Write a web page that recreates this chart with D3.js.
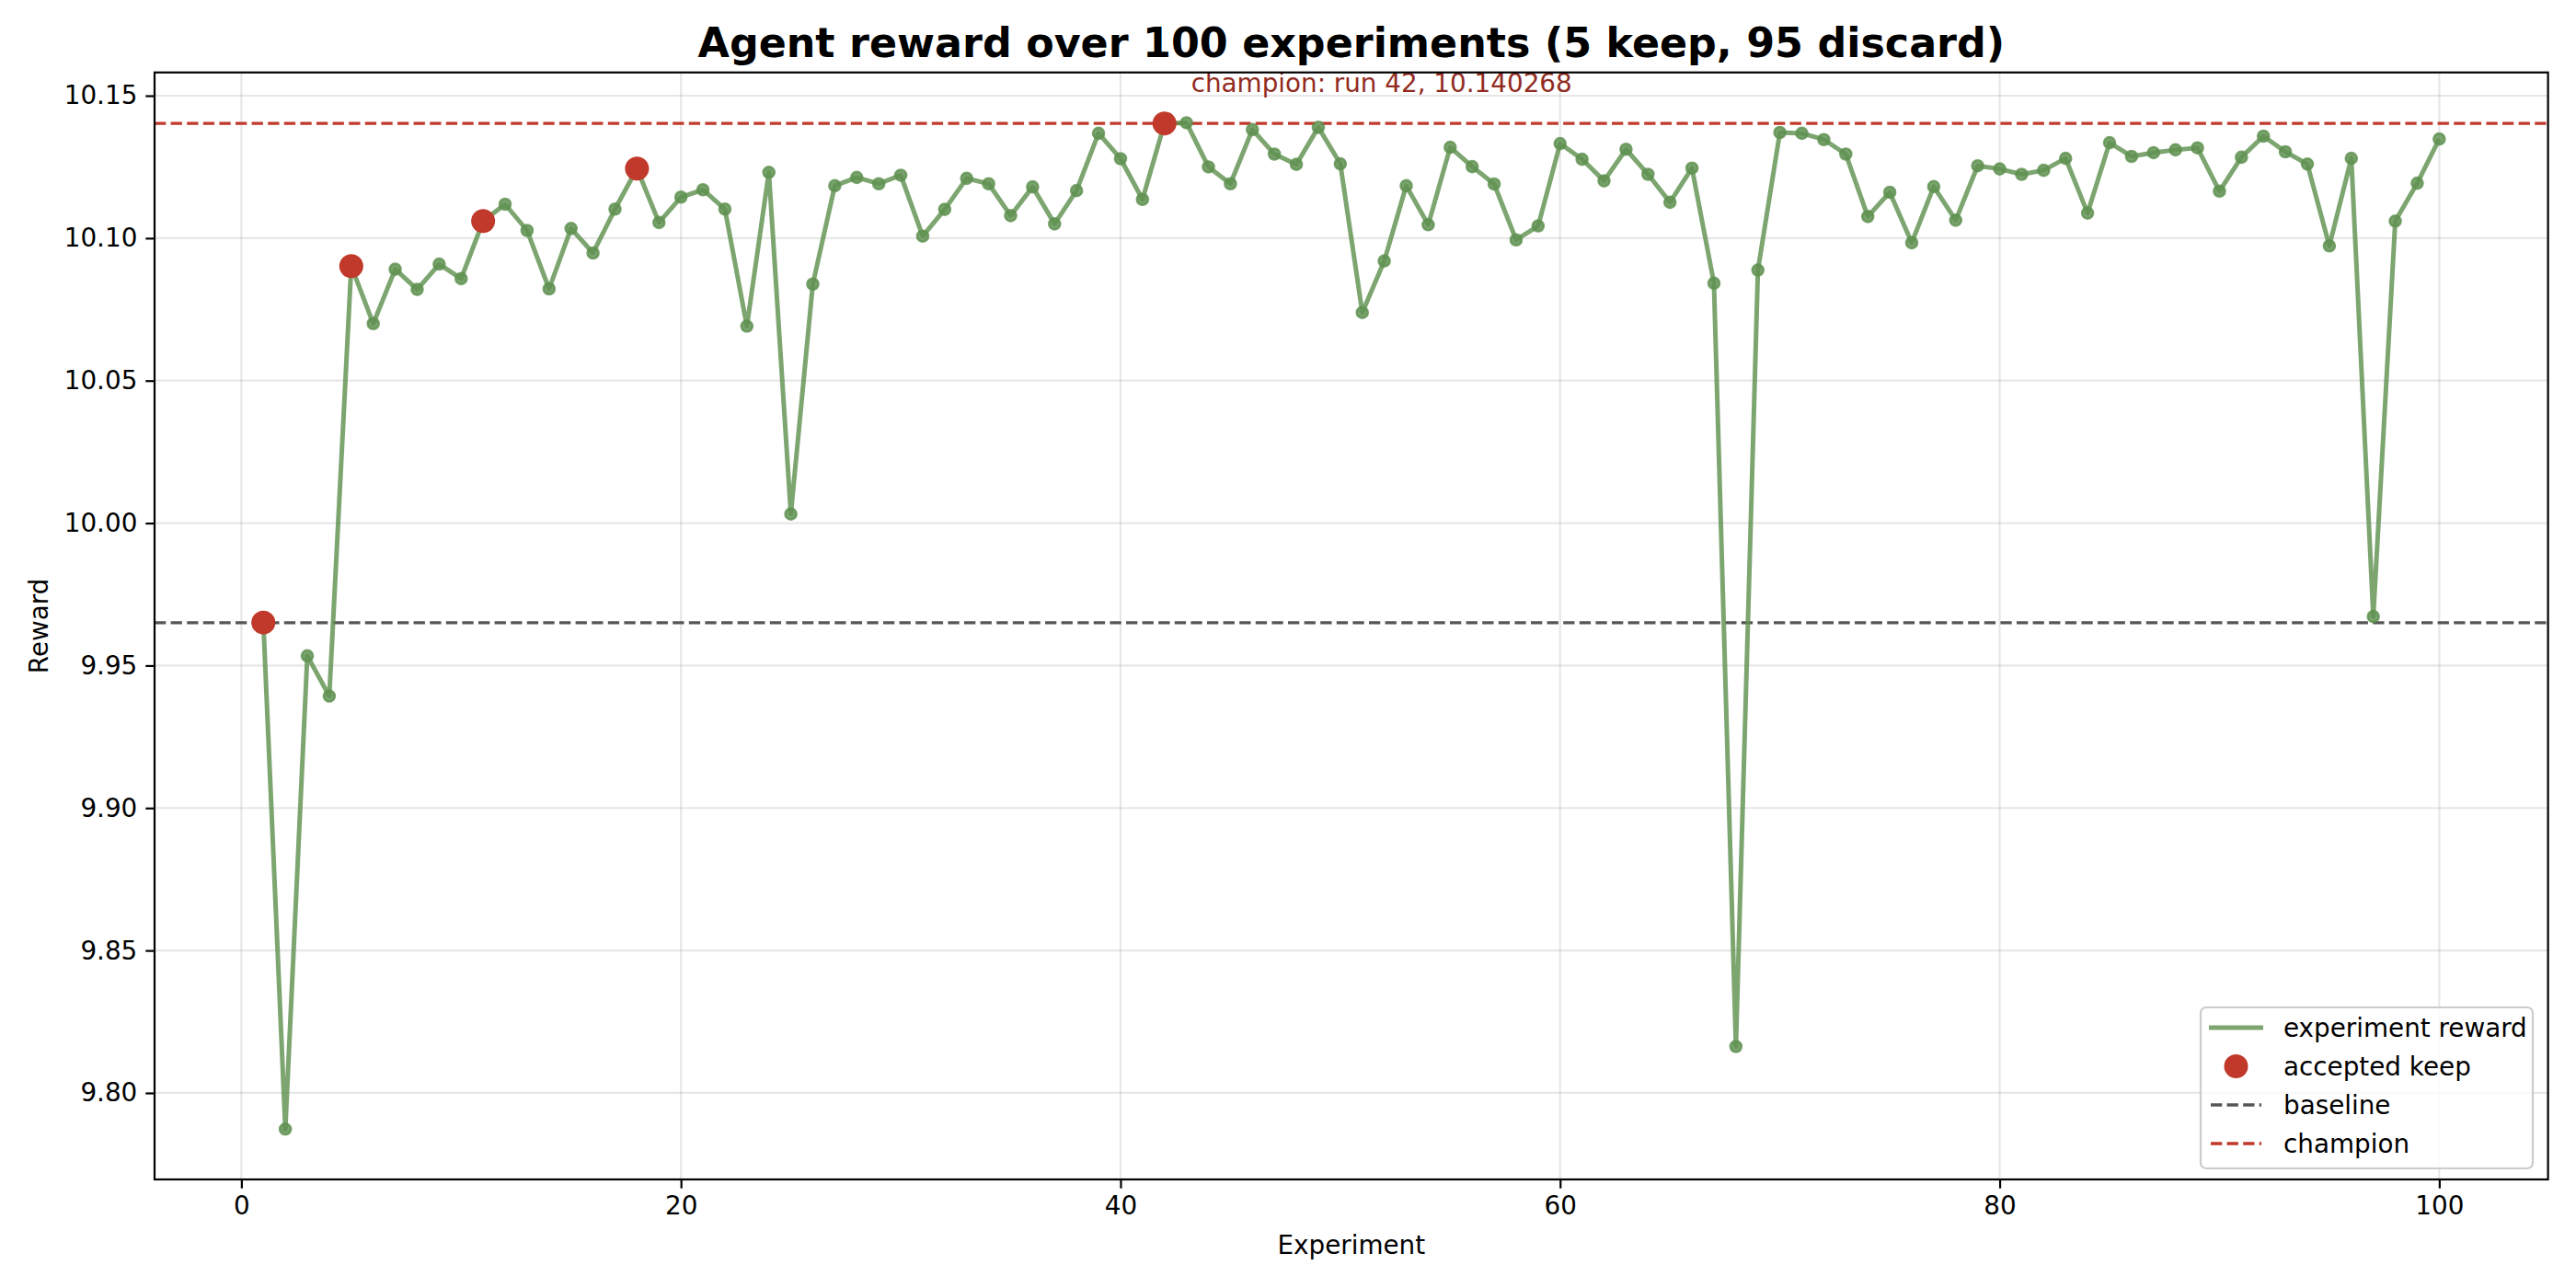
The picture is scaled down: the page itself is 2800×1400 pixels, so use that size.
<!DOCTYPE html>
<html>
<head>
<meta charset="utf-8">
<script src="https://cdn.jsdelivr.net/npm/d3@7"></script>
<style>
  html, body { margin: 0; padding: 0; background: #fff; }
  svg { display: block; font-family: "DejaVu Sans", sans-serif; }
</style>
</head>
<body>
<svg id="chart"></svg>
<script>
// reward per experiment, runs 1..100
const rewards = [
  9.9651, 9.7873, 9.9534, 9.9393, 10.0902, 10.0700, 10.0891, 10.0820, 10.0909, 10.0858,
  10.1060, 10.1119, 10.1027, 10.0822, 10.1034, 10.0948, 10.1102, 10.1244, 10.1055, 10.1144,
  10.1170, 10.1102, 10.0691, 10.1231, 10.0032, 10.0839, 10.1184, 10.1213, 10.1191, 10.1221,
  10.1007, 10.1101, 10.1210, 10.1191, 10.1079, 10.1180, 10.1050, 10.1167, 10.1368, 10.1279,
  10.1136, 10.140268, 10.1405, 10.1250, 10.1191, 10.1381, 10.1295, 10.1259, 10.1389, 10.1261,
  10.0739, 10.0920, 10.1184, 10.1047, 10.1319, 10.1251, 10.1190, 10.0994, 10.1043, 10.1332,
  10.1277, 10.1201, 10.1312, 10.1224, 10.1126, 10.1246, 10.0842, 9.8163, 10.0888, 10.1371,
  10.1368, 10.1346, 10.1295, 10.1076, 10.1161, 10.0984, 10.1181, 10.1063, 10.1254, 10.1243,
  10.1224, 10.1238, 10.1280, 10.1088, 10.1335, 10.1287, 10.1300, 10.1310, 10.1317, 10.1165,
  10.1284, 10.1358, 10.1303, 10.1260, 10.0973, 10.1280, 9.9672, 10.1060, 10.1193, 10.1348
];
const keepRuns = [1, 5, 11, 18, 42];
const baseline = 9.965;
const championRun = 42;
const champion = 10.140268;
const xTicks = [0, 20, 40, 60, 80, 100];
const yTicks = [9.80, 9.85, 9.90, 9.95, 10.00, 10.05, 10.10, 10.15];
const legendLabels = ["experiment reward", "accepted keep", "baseline", "champion"];

const W = 2800, H = 1400;
const margin = { left: 168, right: 2800 - 2769.6, top: 78.75, bottom: 1400 - 1282 };
const GREEN = "#5f9150", RED = "#c0392b", GRAY = "#555555", LABEL_RED = "#922b21";

const points = rewards.map((r, i) => ({ run: i + 1, reward: r }));
const keeps = points.filter(d => keepRuns.includes(d.run));

const svg = d3.select("#chart").attr("width", W).attr("height", H);

// matplotlib-like 5% margins
const xExt = d3.extent(points, d => d.run);
const yExt = d3.extent(points, d => d.reward);
const xPad = (xExt[1] - xExt[0]) * 0.05;
const yPad = (yExt[1] - yExt[0]) * 0.05;

const x = d3.scaleLinear()
  .domain([xExt[0] - xPad, xExt[1] + xPad])
  .range([margin.left, W - margin.right]);
const y = d3.scaleLinear()
  .domain([yExt[0] - yPad, yExt[1] + yPad])
  .range([H - margin.bottom, margin.top]);

const plotW = W - margin.left - margin.right;
const plotH = H - margin.top - margin.bottom;

// grid
const grid = svg.append("g").attr("stroke", "#b0b0b0").attr("stroke-opacity", 0.3).attr("stroke-width", 2.2);
grid.selectAll(".gx").data(xTicks).join("line")
  .attr("x1", d => x(d)).attr("x2", d => x(d))
  .attr("y1", margin.top).attr("y2", H - margin.bottom);
grid.selectAll(".gy").data(yTicks).join("line")
  .attr("x1", margin.left).attr("x2", W - margin.right)
  .attr("y1", d => y(d)).attr("y2", d => y(d));

// reference lines
svg.append("line")
  .attr("x1", margin.left).attr("x2", W - margin.right)
  .attr("y1", y(baseline)).attr("y2", y(baseline))
  .attr("stroke", GRAY).attr("stroke-width", 3.3).attr("stroke-dasharray", "12.3,5.3");
svg.append("line")
  .attr("x1", margin.left).attr("x2", W - margin.right)
  .attr("y1", y(champion)).attr("y2", y(champion))
  .attr("stroke", RED).attr("stroke-width", 3.3).attr("stroke-dasharray", "12.3,5.3");

// reward line + markers
const line = d3.line().x(d => x(d.run)).y(d => y(d.reward));
svg.append("path")
  .datum(points)
  .attr("d", line)
  .attr("fill", "none")
  .attr("stroke", GREEN)
  .attr("stroke-opacity", 0.82)
  .attr("stroke-width", 5)
  .attr("stroke-linejoin", "round");

svg.append("g").selectAll("circle").data(points).join("circle")
  .attr("cx", d => x(d.run)).attr("cy", d => y(d.reward))
  .attr("r", 6)
  .attr("fill", GREEN).attr("fill-opacity", 0.82)
  .attr("stroke", GREEN).attr("stroke-opacity", 0.82).attr("stroke-width", 2.6);

svg.append("g").selectAll("circle").data(keeps).join("circle")
  .attr("cx", d => x(d.run)).attr("cy", d => y(d.reward))
  .attr("r", 13)
  .attr("fill", RED);

// champion label
svg.append("text")
  .attr("x", x(championRun + 1) + 5)
  .attr("y", y(champion + 0.011))
  .attr("fill", LABEL_RED)
  .attr("font-size", 27.8)
  .text(`champion: run ${championRun}, ${champion.toFixed(6)}`);

// axes
const xAxis = d3.axisBottom(x).tickValues(xTicks).tickSize(9.7).tickPadding(9).tickFormat(d3.format("d"));
const yAxis = d3.axisLeft(y).tickValues(yTicks).tickSize(9.7).tickPadding(9).tickFormat(d3.format(".2f"));

const gx = svg.append("g").attr("transform", `translate(0,${H - margin.bottom})`).call(xAxis);
const gy = svg.append("g").attr("transform", `translate(${margin.left},0)`).call(yAxis);
[gx, gy].forEach(g => {
  g.select(".domain").remove();
  g.selectAll(".tick line").attr("stroke", "#000").attr("stroke-width", 2.2);
  g.selectAll(".tick text").attr("fill", "#000").attr("font-size", 27.8)
    .attr("font-family", "DejaVu Sans");
});

// frame
svg.append("rect")
  .attr("x", margin.left).attr("y", margin.top)
  .attr("width", plotW).attr("height", plotH)
  .attr("fill", "none").attr("stroke", "#000").attr("stroke-width", 2.2);

// titles
svg.append("text")
  .attr("x", margin.left + plotW / 2).attr("y", 62)
  .attr("text-anchor", "middle").attr("font-size", 44.4).attr("font-weight", "bold")
  .text("Agent reward over 100 experiments (5 keep, 95 discard)");
svg.append("text")
  .attr("x", margin.left + plotW / 2).attr("y", 1363)
  .attr("text-anchor", "middle").attr("font-size", 27.8)
  .text("Experiment");
svg.append("text")
  .attr("transform", `translate(52,${margin.top + plotH / 2}) rotate(-90)`)
  .attr("text-anchor", "middle").attr("font-size", 27.8)
  .text("Reward");

// legend
const lg = svg.append("g").attr("transform", "translate(2392,1095)");
lg.append("rect")
  .attr("width", 361).attr("height", 175).attr("rx", 6)
  .attr("fill", "#fff").attr("fill-opacity", 0.8)
  .attr("stroke", "#cccccc").attr("stroke-width", 2.2);
const rowY = [22, 64, 106, 148];
const item = lg.selectAll(".item").data(legendLabels).join("g")
  .attr("transform", (d, i) => `translate(0,${rowY[i]})`);
item.append("text")
  .attr("x", 90).attr("y", 10).attr("font-size", 27.8).text(d => d);
item.filter((d, i) => i === 0).append("line")
  .attr("x1", 9).attr("x2", 68).attr("stroke", GREEN).attr("stroke-opacity", 0.82).attr("stroke-width", 5);
item.filter((d, i) => i === 1).append("circle")
  .attr("cx", 38.5).attr("cy", 0).attr("r", 13).attr("fill", RED);
item.filter((d, i) => i >= 2).append("line")
  .attr("x1", 11).attr("x2", 66)
  .attr("stroke", (d, i) => i === 0 ? GRAY : RED)
  .attr("stroke-width", 3.3).attr("stroke-dasharray", "12.3,5.3");
</script>
</body>
</html>
